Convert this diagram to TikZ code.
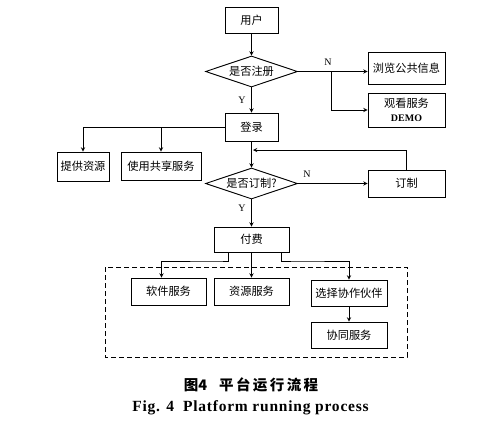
\documentclass[tikz,border=0pt]{standalone}
\usepackage{fontspec}
\setmainfont{Liberation Serif}
\newfontfamily\cjk{Noto Sans CJK SC}
\usetikzlibrary{shapes.geometric, arrows}
\newcommand{\boxfont}{\cjk\fontsize{11.2}{13.5}\selectfont}

\begin{document}
\begin{tikzpicture}[x=1pt, y=-1pt, line width=0.9pt, >=stealth,
  stepbox/.style={draw, font=\boxfont, inner sep=1pt, align=center},
  choice/.style={draw, diamond, aspect=3, inner sep=0pt, font=\boxfont,
    minimum width=92pt, minimum height=31pt},
  yn/.style={font=\fontsize{10}{12}\selectfont}]
  \useasboundingbox (0,0) rectangle (500,434);

  % Drawing the upper part: user, register check
  \node[stepbox, minimum width=53pt, minimum height=26pt] (user) at (251.5,20) {用户};
  \node[choice] (reg) at (251.5,71.5) {是否注册};
  \node[stepbox, minimum width=77pt, minimum height=32pt] (browse) at (406.5,68) {浏览公共信息};
  \node[stepbox, minimum width=77pt, minimum height=34pt] (demo) at (406.5,110)
    {观看服务\\{\rmfamily\bfseries\fontsize{10}{12}\selectfont DEMO}};
  \node[stepbox, minimum width=53pt, minimum height=28pt] (login) at (251.5,127) {登录};
  \node[stepbox, minimum width=52pt, minimum height=29pt] (supply) at (83,166.5) {提供资源};
  \node[stepbox, minimum width=80pt, minimum height=28pt] (share) at (161,166) {使用共享服务};

  % Drawing the order check and the payment
  \node[choice] (order) at (251.5,183.5) {是否订制?};
  \node[stepbox, minimum width=77pt, minimum height=27pt] (custom) at (406.5,183.5) {订制};
  \node[stepbox, minimum width=75pt, minimum height=25pt] (pay) at (251.5,239.5) {付费};

  % Drawing the services inside the dashed frame
  \draw[dashed, dash pattern=on 5pt off 3pt] (105,267) rectangle (407,357);
  \node[stepbox, minimum width=75pt, minimum height=27pt] (soft) at (168.5,291.5) {软件服务};
  \node[stepbox, minimum width=75pt, minimum height=27pt] (res) at (251.5,291.5) {资源服务};
  \node[stepbox, minimum width=76pt, minimum height=26pt] (partner) at (349,293) {选择协作伙伴};
  \node[stepbox, minimum width=76pt, minimum height=26pt] (collab) at (349,335) {协同服务};

  % Drawing the connectors
  \draw[->] (user) -- (reg);
  \draw[->] (reg.east) -- (reg.east -| browse.west);
  \coordinate (split) at (331,71.5);
  \draw[->] (split) |- (demo.west);
  \node[yn] at (328,62) {N};
  \draw[->] (reg) -- (login);
  \node[yn] at (242,100) {Y};
  \draw (login.west) -- (login.west -| supply.north);
  \draw[->] (login.west -| supply.north) -- (supply.north);
  \draw[->] (login.west -| share.north) -- (share.north);
  \draw[->] (login) -- (order);
  \draw[->] (order.east) -- (order.east -| custom.west);
  \node[yn] at (307,174) {N};
  \coordinate (back) at (253,150);
  \draw[->] (custom.north) |- (back);
  \draw[->] (order) -- (pay);
  \node[yn] at (242,208) {Y};
  \draw[->] ([xshift=-23pt]pay.south) |- (218,261) -| ([xshift=-7pt]soft.north);
  \draw[->] (pay.south) -- (res.north);
  \draw[->] ([xshift=30pt]pay.south) |- (300,261) -| (partner.north);
  \draw[->] (partner) -- (collab);

  % Drawing the caption
  \node[font=\cjk\bfseries\fontsize{14.5}{16}\selectfont] (capzh) at (251,384.5)
    {图4\hspace{12pt}平\,台\,运\,行\,流\,程};
  \node[font=\bfseries\fontsize{15.5}{17}\selectfont\addfontfeatures{LetterSpace=5}] (capen) at (250.5,408)
    {Fig. 4\hspace{9pt}Platform running process};
\end{tikzpicture}
\end{document}
